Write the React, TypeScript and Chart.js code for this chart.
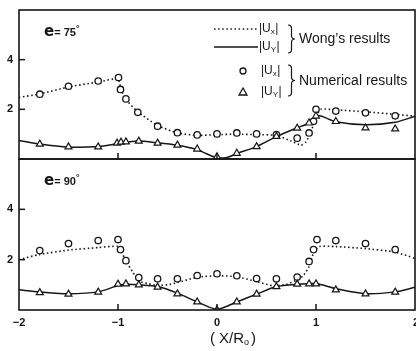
import React, { useEffect, useRef } from "react";
import { Chart, registerables } from "chart.js";
Chart.register(...registerables);

// ---------- Data: panel e = 75° ----------
const topWongUxX = [-2, -1.79, -1.5, -1.2, -1.0, -0.97, -0.92, -0.8, -0.6, -0.4, -0.2, 0, 0.2, 0.4, 0.6, 0.75, 0.85, 0.9, 0.95, 1.0, 1.05, 1.2, 1.5, 1.8, 2.0];
const topWongUxY = [2.48, 2.62, 2.9, 3.1, 3.22, 2.8, 2.4, 1.9, 1.35, 1.05, 0.95, 0.98, 1.0, 0.98, 0.95, 0.72, 0.56, 0.7, 1.1, 1.7, 2.0, 1.98, 1.9, 1.8, 1.72];
const topWongUyX = [-2, -1.79, -1.5, -1.2, -1.0, -0.8, -0.6, -0.4, -0.2, -0.1, 0, 0.1, 0.2, 0.4, 0.6, 0.8, 0.93, 1.02, 1.2, 1.5, 1.8, 2.0];
const topWongUyY = [0.75, 0.6, 0.48, 0.5, 0.62, 0.72, 0.65, 0.55, 0.38, 0.2, 0.05, 0.06, 0.22, 0.5, 0.9, 1.24, 1.45, 1.75, 1.5, 1.38, 1.48, 1.72];
const topNumUxX = [-1.79, -1.5, -1.2, -0.995, -0.975, -0.92, -0.8, -0.6, -0.4, -0.2, 0, 0.2, 0.4, 0.6, 0.81, 0.93, 0.975, 1.0, 1.2, 1.5, 1.8];
const topNumUxY = [2.61, 2.93, 3.14, 3.28, 2.8, 2.42, 1.88, 1.32, 1.06, 0.97, 1.01, 1.05, 1.01, 0.98, 0.84, 1.05, 1.52, 2.0, 1.93, 1.86, 1.74];
const topNumUyX = [-1.79, -1.5, -1.2, -1.01, -0.97, -0.92, -0.79, -0.6, -0.4, -0.2, 0, 0.2, 0.4, 0.6, 0.81, 0.93, 1.0, 1.2, 1.5, 1.8];
const topNumUyY = [0.6, 0.49, 0.49, 0.64, 0.68, 0.69, 0.72, 0.64, 0.56, 0.4, 0.09, 0.23, 0.5, 0.91, 1.24, 1.45, 1.73, 1.51, 1.25, 1.21];

// ---------- Data: panel e = 90° ----------
const botWongUxX = [-2, -1.8, -1.5, -1.2, -1.0, -0.97, -0.92, -0.85, -0.79, -0.7, -0.6, -0.5, -0.4, -0.2, 0, 0.2, 0.4, 0.57, 0.7, 0.81, 0.87, 0.93, 0.975, 1.03, 1.2, 1.5, 1.8, 2.0];
const botWongUxY = [2.0, 2.2, 2.38, 2.48, 2.53, 2.35, 1.95, 1.5, 1.15, 1.05, 0.98, 1.0, 1.09, 1.3, 1.36, 1.32, 1.13, 0.96, 1.02, 1.2, 1.36, 1.73, 2.27, 2.52, 2.52, 2.44, 2.3, 2.05];
const botWongUyX = [-2, -1.79, -1.5, -1.2, -1.0, -0.92, -0.79, -0.6, -0.4, -0.2, 0, 0.2, 0.4, 0.6, 0.8, 1.0, 1.2, 1.5, 1.8, 2.0];
const botWongUyY = [0.8, 0.72, 0.65, 0.72, 0.97, 1.02, 1.0, 0.93, 0.67, 0.32, 0.03, 0.32, 0.63, 0.93, 1.02, 1.05, 0.85, 0.65, 0.72, 0.9];
const botNumUxX = [-1.79, -1.5, -1.2, -1.0, -0.975, -0.92, -0.79, -0.6, -0.4, -0.2, 0, 0.2, 0.4, 0.6, 0.81, 0.93, 0.975, 1.01, 1.2, 1.5, 1.8];
const botNumUxY = [2.36, 2.64, 2.76, 2.8, 2.4, 1.96, 1.29, 1.24, 1.24, 1.37, 1.44, 1.36, 1.25, 1.24, 1.31, 1.93, 2.4, 2.8, 2.76, 2.64, 2.4];
const botNumUyX = [-1.79, -1.5, -1.2, -1.0, -0.92, -0.79, -0.6, -0.4, -0.2, 0, 0.2, 0.4, 0.6, 0.81, 0.93, 1.0, 1.2, 1.5, 1.8];
const botNumUyY = [0.69, 0.63, 0.71, 1.03, 1.04, 1.0, 0.91, 0.64, 0.32, 0.0, 0.32, 0.63, 0.93, 1.03, 1.04, 1.04, 0.8, 0.64, 0.71];

// ---------- Axis ----------
const xTickValues = [-2, -1, 0, 1, 2];
const xTickLabels = ["\u22122", "\u22121", "0", "1", "2"];
const yTickValues = [2, 4];
const yTickLabels = ["2", "4"];
const topLabel = ["e", "= 75", "\u00b0"];
const botLabel = ["e", "= 90", "\u00b0"];

const INK = "#161616";

const zip = (xs: number[], ys: number[]) => xs.map((x, i) => ({ x, y: ys[i] }));

function drawU(ctx: CanvasRenderingContext2D, x: number, y: number, sub: string) {
  ctx.textAlign = "left";
  ctx.textBaseline = "middle";
  ctx.font = '12px "Liberation Sans"';
  ctx.fillText("|U", x, y);
  let w = ctx.measureText("|U").width;
  ctx.font = '8px "Liberation Sans"';
  ctx.fillText(sub, x + w, y + 2.5);
  w += ctx.measureText(sub).width + 0.5;
  ctx.font = '12px "Liberation Sans"';
  ctx.fillText("|", x + w, y);
}

function brace(ctx: CanvasRenderingContext2D, x: number, y1: number, y2: number) {
  const mid = (y1 + y2) / 2;
  const w = 3.5;
  ctx.beginPath();
  ctx.moveTo(x, y1);
  ctx.quadraticCurveTo(x + w, y1, x + w, y1 + w);
  ctx.lineTo(x + w, mid - w);
  ctx.quadraticCurveTo(x + w, mid, x + 2 * w, mid);
  ctx.quadraticCurveTo(x + w, mid, x + w, mid + w);
  ctx.lineTo(x + w, y2 - w);
  ctx.quadraticCurveTo(x + w, y2, x, y2);
  ctx.lineWidth = 1.2;
  ctx.stroke();
}

function makeDecor(label: string[], isTop: boolean) {
  return {
    id: "decor" + (isTop ? "Top" : "Bot"),
    afterDraw(chart: any) {
      const ctx: CanvasRenderingContext2D = chart.ctx;
      const { left, right, top, bottom } = chart.chartArea;
      const xs = chart.scales.x;
      const ys = chart.scales.y;
      ctx.save();
      ctx.strokeStyle = INK;
      ctx.fillStyle = INK;
      ctx.lineWidth = 1.6;
      ctx.strokeRect(left, top, right - left, bottom - top);
      // inward ticks
      ctx.lineWidth = 1.5;
      xTickValues.forEach((v) => {
        if (v === -2 || v === 2) return;
        const px = xs.getPixelForValue(v);
        ctx.beginPath();
        ctx.moveTo(px, bottom);
        ctx.lineTo(px, bottom - 6);
        ctx.stroke();
      });
      ctx.font = 'bold 11px "Liberation Sans"';
      ctx.textAlign = "right";
      ctx.textBaseline = "middle";
      yTickValues.forEach((v, i) => {
        const py = ys.getPixelForValue(v);
        ctx.beginPath();
        ctx.moveTo(left, py);
        ctx.lineTo(left + 6, py);
        ctx.stroke();
        ctx.fillText(yTickLabels[i], left - 6, py);
      });
      // panel label
      ctx.textAlign = "left";
      ctx.textBaseline = "alphabetic";
      const ly = top + 26;
      ctx.font = 'bold 15px "DejaVu Sans"';
      ctx.fillText(label[0], 44, ly);
      let w = ctx.measureText(label[0]).width;
      ctx.font = 'bold 11px "Liberation Sans"';
      ctx.fillText(label[1], 44 + w, ly);
      w += ctx.measureText(label[1]).width;
      ctx.font = 'bold 9px "Liberation Sans"';
      ctx.fillText(label[2], 44 + w, ly - 5);

      if (isTop) {
        // legend
        ctx.lineWidth = 1.4;
        ctx.setLineDash([1.5, 2.6]);
        ctx.beginPath();
        ctx.moveTo(214, 29);
        ctx.lineTo(258, 29);
        ctx.stroke();
        ctx.setLineDash([]);
        ctx.beginPath();
        ctx.moveTo(214, 47);
        ctx.lineTo(258, 47);
        ctx.stroke();
        drawU(ctx, 259, 29, "x");
        drawU(ctx, 259, 47, "Y");
        brace(ctx, 288, 25, 53);
        // markers
        ctx.lineWidth = 1.3;
        ctx.beginPath();
        ctx.arc(243, 71, 3, 0, Math.PI * 2);
        ctx.stroke();
        ctx.beginPath();
        ctx.moveTo(243, 88);
        ctx.lineTo(247, 95);
        ctx.lineTo(239, 95);
        ctx.closePath();
        ctx.stroke();
        drawU(ctx, 261, 71, "x");
        drawU(ctx, 261, 92, "Y");
        brace(ctx, 288, 65, 96);
        ctx.font = '14px "Liberation Sans"';
        ctx.textAlign = "left";
        ctx.textBaseline = "middle";
        ctx.fillText("Wong\u2019s results", 299, 39);
        ctx.fillText("Numerical results", 299, 81);
      } else {
        ctx.font = 'bold 11px "Liberation Sans"';
        ctx.textAlign = "center";
        ctx.textBaseline = "middle";
        xTickValues.forEach((v, i) => {
          let px = xs.getPixelForValue(v);
          if (v === 2) px += 1;
          ctx.fillText(xTickLabels[i], px, bottom + 13);
        });
        // x title
        ctx.textAlign = "left";
        const p1 = "( X/R";
        const p2 = "o";
        const p3 = ")";
        ctx.font = '15px "Liberation Sans"';
        const w1 = ctx.measureText(p1).width;
        ctx.font = '9px "Liberation Sans"';
        const w2 = ctx.measureText(p2).width;
        ctx.font = '15px "Liberation Sans"';
        const w3 = ctx.measureText(p3).width;
        const total = w1 + w2 + 2 + w3;
        const sx = 233 - total / 2;
        const ty = bottom + 29;
        ctx.fillText(p1, sx, ty);
        ctx.font = '9px "Liberation Sans"';
        ctx.fillText(p2, sx + w1, ty + 4);
        ctx.font = '15px "Liberation Sans"';
        ctx.fillText(p3, sx + w1 + w2 + 2, ty);
      }
      ctx.restore();
    },
  };
}

function buildConfig(
  wux: number[], wuy: number[], wyx: number[], wyy: number[],
  nux: number[], nuy: number[], nyx: number[], nyy: number[],
  padding: any, label: string[], isTop: boolean
): any {
  return {
    type: "scatter",
    data: {
      datasets: [
        {
          label: "Wong |Ux|",
          data: zip(wux, wuy),
          showLine: true,
          borderColor: INK,
          borderWidth: 1.6,
          borderDash: [1.5, 2.6],
          pointRadius: 0,
          tension: 0.2,
          order: 3,
        },
        {
          label: "Wong |Uy|",
          data: zip(wyx, wyy),
          showLine: true,
          borderColor: INK,
          borderWidth: 1.5,
          pointRadius: 0,
          tension: 0.25,
          order: 2,
        },
        {
          label: "Num |Ux|",
          data: zip(nux, nuy),
          showLine: false,
          pointStyle: "circle",
          pointRadius: 3.2,
          pointBorderWidth: 1.3,
          pointBorderColor: INK,
          pointBackgroundColor: "#ffffff",
          order: 1,
        },
        {
          label: "Num |Uy|",
          data: zip(nyx, nyy),
          showLine: false,
          pointStyle: "triangle",
          pointRadius: 4,
          pointBorderWidth: 1.2,
          pointBorderColor: INK,
          pointBackgroundColor: "#ffffff",
          order: 0,
        },
      ],
    },
    options: {
      animation: false,
      responsive: false,
      maintainAspectRatio: false,
      devicePixelRatio: 1,
      layout: { padding, autoPadding: false },
      plugins: { legend: { display: false }, tooltip: { enabled: false } },
      scales: {
        x: { type: "linear", min: -2, max: 2, display: false },
        y: { type: "linear", min: 0, max: 6, display: false },
      },
    },
    plugins: [makeDecor(label, isTop)],
  };
}

export default function App() {
  const topRef = useRef<HTMLCanvasElement>(null);
  const botRef = useRef<HTMLCanvasElement>(null);
  useEffect(() => {
    document.body.style.margin = "0";
    document.body.style.background = "#ffffff";
    const c1 = new Chart(
      topRef.current as HTMLCanvasElement,
      buildConfig(topWongUxX, topWongUxY, topWongUyX, topWongUyY, topNumUxX, topNumUxY, topNumUyX, topNumUyY,
        { left: 19, right: 1, top: 10, bottom: 2 }, topLabel, true)
    );
    const c2 = new Chart(
      botRef.current as HTMLCanvasElement,
      buildConfig(botWongUxX, botWongUxY, botWongUyX, botWongUyY, botNumUxX, botNumUxY, botNumUyX, botNumUyY,
        { left: 19, right: 1, top: 1, bottom: 41 }, botLabel, false)
    );
    return () => {
      c1.destroy();
      c2.destroy();
    };
  }, []);
  return (
    <div style={{ position: "relative", width: 416, height: 351, background: "#fff" }}>
      <canvas ref={topRef} width={416} height={161} style={{ position: "absolute", left: 0, top: 0, width: 416, height: 161 }} />
      <canvas ref={botRef} width={416} height={193} style={{ position: "absolute", left: 0, top: 158, width: 416, height: 193 }} />
    </div>
  );
}
